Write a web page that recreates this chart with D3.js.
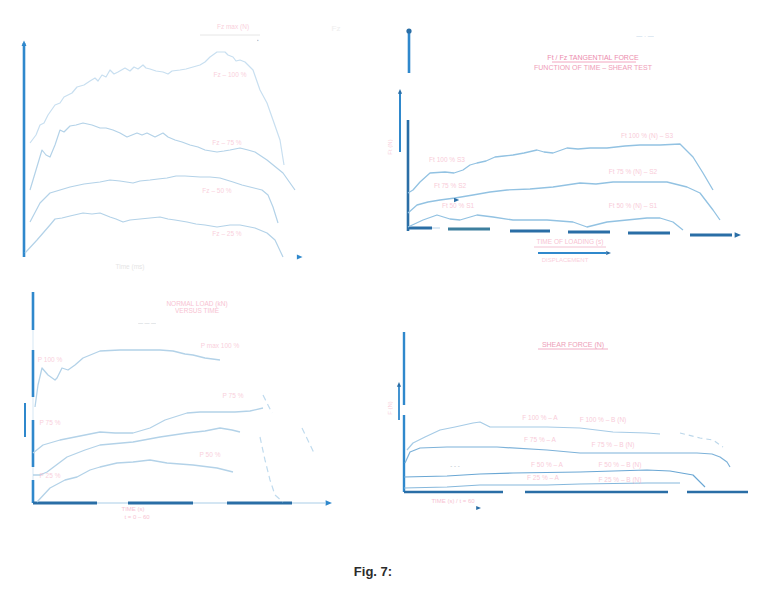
<!DOCTYPE html>
<html><head><meta charset="utf-8">
<script src="https://cdn.jsdelivr.net/npm/d3@7"></script>
<style>body{margin:0;background:#fff}svg{display:block}</style>
</head><body>
<svg width="780" height="593"></svg>
<script>
// ---------- Panel A (top-left) ----------
const aCurveTop = [[3,57],[6,61],[8,66],[10,67],[12,71],[15.5,76],[18,77],[20,80],[24,82],[26.5,85],[30,86],[33,88],[35.5,89.5],[37,88],[39,91],[41,90],[43,93.5],[45,91.5],[47,92.5],[50.5,94.5],[53,93],[55,95],[57,94],[59.5,96],[61,94.5],[63,94],[66,93],[69.5,92.5],[72,91.5],[74,93],[78,93.5],[81,94],[84.5,95],[88,96],[90.5,97.5],[93,100],[96.5,102.5],[100.5,102.5],[102,101],[104.5,100],[106,98],[108,98.5],[110.5,97.5],[114.5,93.5],[118,83.5],[121.5,77],[124.5,68.5],[128,58.5],[130,46]];
const aCurve2 = [[3,33.5],[6,43.5],[9,53.5],[11,51],[13,50],[15.5,56],[18,63.5],[20,62.5],[23,65.5],[26,66],[29.5,67],[34,66],[38,64.5],[41,64.5],[44.5,63.5],[48,62],[51.5,60],[54,61],[56.5,62],[59,61],[61.5,62],[65.5,60],[69.5,62],[72,60],[75.5,58.5],[79,57.5],[83,56],[87,55],[90.5,53.5],[96.5,52.5],[100,53],[103,53.5],[108,54.5],[112,53.5],[115.5,52.5],[121.5,48.5],[129.5,42],[135.5,33.5]];
const aCurve3 = [[3,17.5],[8,27],[13,32],[18,33.5],[23,35],[30,36.5],[38,37.5],[43,38.5],[48,38],[54.5,37],[58,38],[63,38.5],[67,39],[71.5,39.5],[76,40.5],[80.5,40.5],[88,40],[93,40],[98,39.5],[104.5,37.5],[109,36],[113,35],[119,33.5],[122,31],[124.5,25],[127,17]];
const aCurve4 = [[0.5,2],[6.5,8.5],[13,16],[15.5,19],[19,19.5],[23,20.5],[29.5,22],[34,21.5],[38,22],[43,20],[46,19],[49.5,17.5],[53,18.5],[58,19],[63,19.5],[68,20],[72,19],[75.5,18.5],[81.5,17.5],[86,16.5],[90.5,16],[96.5,15],[103,16],[108,16],[115.5,14.5],[121.5,12],[125.5,8.5],[129.5,0]];
const aLabels = [["Fz max (N)",104.5,114],["Fz – 100 %",103,90],["Fz – 75 %",101.5,56],["Fz – 50 %",96.5,32],["Fz – 25 %",101.5,10.5],["Time (ms)",53,-6]];

// ---------- Panel B (top-right) ----------
const bCurveTop = [[0,19],[2.5,20.5],[6,24.5],[11,29],[18.5,29.5],[23,29],[27.5,30.5],[31,33],[34.5,34],[39,35],[43.5,37],[48,37.5],[52.5,38],[58,39],[64.5,40.5],[68,39.5],[72.5,39],[79.5,41.5],[85,41],[91,41.5],[99.5,41.5],[108.5,42.5],[116,43],[126,43],[136,43.5],[142.5,37],[147.5,29],[152.5,20.5]];
const bCurveMid = [[0,9],[4.5,13],[10,14.5],[16,15.5],[23.5,16.5],[32.5,18],[41,19.5],[49.5,20.5],[61,21],[72.5,22],[86,24],[94,23.5],[102.5,24.5],[116,24.5],[129.5,24.5],[139.5,22],[146,19],[152.5,10.5],[156,5.5]];
const bCurveLow = [[0,2],[7.5,5.5],[14.5,8],[21,6],[26,5.5],[34.5,8],[42.5,7],[52.5,5.5],[69.5,5.5],[82.5,4.5],[89.5,2],[99.5,4.5],[109.5,5.5],[119.5,6.5],[126,6.5],[132.5,4.5],[137.5,0.5]];
const bAxisDashes = [[0,12,1.5],[20,41,1],[51,71,0],[80,101,-0.5],[110,131,-1],[141,162,-2]];
const bLabels = [["Ft 100 % (N) – S3",119.5,46.5],["Ft 75 % (N) – S2",112.5,28.5],["Ft 50 % (N) – S1",112.5,11.5],["Ft 100 % S3",19.5,34.5],["Ft 75 % S2",21,21.5],["Ft 50 % S1",25,11.5]];
const bTitle = ["Ft / Fz TANGENTIAL FORCE","FUNCTION OF TIME – SHEAR TEST"];
const bXLabel = ["TIME OF LOADING (s)","DISPLACEMENT"];

// ---------- Panel C (bottom-left) ----------
const cCurveTop = [[1,48],[2.5,59],[4.5,67.5],[7.5,64],[11,61.5],[12,62.5],[14.5,67.5],[17.5,66.5],[21,69],[25,72.5],[33.5,76],[43.5,76.5],[53.5,76.5],[63.5,76.5],[70,76],[76,74.5],[80,74],[86,72.5],[93.5,71.5]];
const cCurve2 = [[0,25],[5,29],[13.5,31.5],[23.5,33.5],[33.5,35.5],[41,35],[50,35],[58.5,37.5],[66,41.5],[77,45],[83.5,45.5],[92,45.5],[101,45.5],[108.5,46],[115,47.5]];
const cCurve3 = [[0,14],[3.5,14],[7,15.5],[17,23],[26,26.5],[33.5,29],[50,30.5],[63.5,33],[77,35],[86,36],[93.5,37.5],[99.5,36.5],[103.5,35.5]];
const cCurve4 = [[2,0.5],[8.5,7.5],[16,11.5],[22,13],[28.5,16.5],[33.5,18],[42,20],[50,20.5],[58.5,21.5],[67,20],[80,19],[92,17.5],[100,15.5]];
const cDrops = [[[115,54],[119.5,45]],[[113.5,33],[116,21.5],[118.5,11.5],[121,4],[125,0.5]],[[134.5,37.5],[141,24]]];
const cAxisY = [[0,11.5],[18,41.5],[53,76.5],[86.5,105.5]];
const cAxisX = [[0,32],[47.5,80],[97,129.5]];
const cLabels = [["P max 100 %",93.5,77.5],["P 100 %",8.5,70.5],["P 75 %",100,52.5],["P 75 %",8.5,39],["P 50 %",88.5,23],["P 25 %",8.5,12.5]];
const cTitle = ["NORMAL LOAD (kN)","VERSUS TIME"];
const cXLabel = ["TIME (s)","t = 0 – 60"];

// ---------- Panel D (bottom-right) ----------
const dCurveTop = [[1.5,21],[4.5,24.5],[10.5,27.5],[18,31],[25.5,32.5],[34.5,34.5],[38,35],[43,32.5],[53,32.5],[71.5,32.5],[88,32],[104.5,30],[121.5,29.5],[128,29]];
const dTailTop = [[138,29.5],[148,27],[154.5,26],[159.5,22.5]];
const dCurve2 = [[0.5,14.5],[3,20],[8,22],[21.5,22.5],[46.5,22.5],[71.5,21],[88,19.5],[121.5,19.5],[146.5,19.5],[154,19],[158,17.5],[161.5,15],[163,12.5]];
const dCurve3 = [[0,7.5],[21.5,8],[38,9],[54.5,9.5],[88,10],[121.5,11],[133,10.5],[144.5,8.5],[150.5,2.5]];
const dCurve4 = [[0,2],[21.5,2.5],[38,3.5],[71.5,3.5],[88,4],[121.5,4.5],[138,4.5]];
const dAxisY = [[0,38.5],[43.5,80]];
const dAxisX = [[0,49.5],[60.5,132],[141.5,172]];
const dLabels = [["F 100 % – A",68,36],["F 100 % – B (N)",99.5,35],["F 75 % – A",68,25],["F 75 % – B (N)",104.5,22.5],["F 50 % – A",71.5,12.5],["F 50 % – B (N)",108,12.5],["F 25 % – A",69.5,6],["F 25 % – B (N)",108,5]];
const dTitle = "SHEAR FORCE (N)";
const dXLabel = "TIME (s) / t = 60";

const caption = "Fig. 7:";

// ---------- drawing ----------
const svg = d3.select("svg");
const AX = "#2f88cc", AXD = "#2a6ea6", PINK = "#f5a9c0", CURVE = "#b3d2e8";

function mkScales(xd, xr, yd, yr){
  return {x: d3.scaleLinear().domain(xd).range(xr), y: d3.scaleLinear().domain(yd).range(yr)};
}
function curve(g, s, data, color, w, dash){
  g.append("path").datum(data)
   .attr("d", d3.line().x(d=>s.x(d[0])).y(d=>s.y(d[1])))
   .attr("fill","none").attr("stroke",color).attr("stroke-width",w)
   .attr("stroke-linejoin","round").attr("stroke-dasharray",dash||null);
}
function label(g, s, t, x, y, opt){
  opt = opt||{};
  const el = g.append("text").attr("x",s.x(x)).attr("y",s.y(y))
    .attr("text-anchor",opt.anchor||"middle")
    .attr("font-family","Liberation Sans, Arial, sans-serif")
    .attr("font-size",opt.size||6.5).attr("fill",opt.color||PINK)
    .attr("opacity",opt.op==null?0.7:opt.op).text(t);
  if(opt.rot) el.attr("transform",`rotate(-90,${s.x(x)},${s.y(y)})`);
  return el;
}
function vline(g, s, x, y0, y1, color, w){
  g.append("line").attr("x1",s.x(x)).attr("x2",s.x(x)).attr("y1",s.y(y0)).attr("y2",s.y(y1))
   .attr("stroke",color).attr("stroke-width",w);
}
function hline(g, s, x0, x1, y, color, w){
  g.append("line").attr("x1",s.x(x0)).attr("x2",s.x(x1)).attr("y1",s.y(y)).attr("y2",s.y(y))
   .attr("stroke",color).attr("stroke-width",w);
}
function arrow(g, px, py, dir, color, size){
  size = size||4;
  let pts;
  if(dir==="up") pts=[[px,py-size],[px-size*0.7,py+size*0.6],[px+size*0.7,py+size*0.6]];
  else pts=[[px+size,py],[px-size*0.6,py-size*0.7],[px-size*0.6,py+size*0.7]];
  g.append("polygon").attr("points",pts.map(p=>p.join(",")).join(" ")).attr("fill",color);
}

// Panel A
{
  const s = mkScales([0,140],[24,304],[0,107],[257,43]);
  const g = svg.append("g");
  vline(g,s,0,0,107,AX,2.6);
  arrow(g,s.x(0),s.y(107)+1,"up",AX,3.5);
  arrow(g,s.x(137)+1,s.y(0),"right",AX,3.5);
  [aCurveTop,aCurve2,aCurve3,aCurve4].forEach((c,i)=>curve(g,s,c,i===0?"#c8dff0":CURVE,1.2));
  aLabels.forEach((l,i)=>label(g,s,l[0],l[1],l[2],{color:i===5?"#cfcfcf":PINK,op:0.55}));
  hline(g,s,88,118,111,"#e6e6e6",1);
  label(g,s,"▪",117,107.5,{color:"#9aa3aa",size:5});
  label(g,s,"Fz",156,113,{color:"#e8e8e8",size:8});
}

// Panel B
{
  const s = mkScales([0,165],[408,738],[0,70],[231,91]);
  const g = svg.append("g");
  g.append("line").attr("x1",409).attr("x2",409).attr("y1",s.y(70)-61).attr("y2",s.y(70)-18).attr("stroke",AX).attr("stroke-width",2.6);
  g.append("circle").attr("cx",409).attr("cy",s.y(70)-60).attr("r",2.6).attr("fill",AXD);
  vline(g,s,-4,39.5,69.5,AX,2);
  arrow(g,s.x(-4),s.y(69.5),"up",AXD,3);
  vline(g,s,0,0,55.5,AXD,2.6);
  bAxisDashes.forEach(d=>hline(g,s,d[0],d[1],d[2],d[0]===20?"#3d7f9e":AXD,3));
  hline(g,s,12,16,1.5,"#b7d3ea",1);
  arrow(g,s.x(164.5),s.y(-2),"right",AXD,4);
  [bCurveTop,bCurveMid,bCurveLow].forEach(c=>curve(g,s,c,"#92c2e2",1.3));
  arrow(g,s.x(24),s.y(15.5),"right",AXD,3.2);
  bLabels.forEach(l=>label(g,s,l[0],l[1],l[2],{op:0.6}));
  label(g,s,bTitle[0],92.5,85.5,{size:7,color:"#e86e98",op:0.8});
  hline(g,s,72,114,84.5,"#ef8fb0",0.8);
  label(g,s,bTitle[1],92.5,80.5,{size:7,color:"#ec86a8",op:0.8});
  label(g,s,"— · —",118.5,96.5,{color:"#8fb4d4",size:6});
  label(g,s,"Ft (N)",-8,42,{rot:true,size:6,op:0.55});
  label(g,s,bXLabel[0],81,-6.5,{size:6.5});
  hline(g,s,63,99,-8,"#f0b2c6",0.8);
  hline(g,s,65,99,-11,AX,2);
  arrow(g,s.x(100),s.y(-11),"right",AXD,3);
  label(g,s,bXLabel[1],78.5,-15.5,{size:6,op:0.55});
}

// Panel C
{
  const s = mkScales([0,147.5],[33,328],[0,105.5],[503,292]);
  const g = svg.append("g");
  hline(g,s,0,146,0,"#a9cde8",1.2);
  cAxisY.forEach(d=>vline(g,s,0,d[0],d[1],AX,2.6));
  cAxisY.forEach((d,i)=>{ if(i<3) vline(g,s,0,d[1],cAxisY[i+1][0],"#d5e7f4",1); });
  vline(g,s,-4,33,50,AX,2);
  cAxisX.forEach(d=>hline(g,s,d[0],d[1],0,AXD,3));
  arrow(g,s.x(147.5),s.y(0),"right",AX,4);
  [cCurveTop,cCurve2,cCurve3,cCurve4].forEach(c=>curve(g,s,c,CURVE,1.3));
  cDrops.forEach(c=>curve(g,s,c,"#c0dbee",1.2,"6,4"));
  cLabels.forEach(l=>label(g,s,l[0],l[1],l[2],{op:0.55}));
  label(g,s,cTitle[0],82,98.5,{size:6.5});
  label(g,s,cTitle[1],82,95,{size:6.5});
  label(g,s,"— — —",57,89,{color:"#a6adb3",size:5});
  label(g,s,cXLabel[0],50,-4,{size:6});
  label(g,s,cXLabel[1],52,-8,{size:6});
}

// Panel D
{
  const s = mkScales([0,172],[404,748],[0,80],[492,332]);
  const g = svg.append("g");
  dAxisY.forEach(d=>vline(g,s,0,d[0],d[1],AX,2.4));
  vline(g,s,-2.5,36,53.5,AX,1.8);
  arrow(g,s.x(-2.5),s.y(53.5),"up",AXD,3);
  dAxisX.forEach(d=>hline(g,s,d[0],d[1],0,AXD,2.6));
  curve(g,s,dCurveTop,"#a6cbe6",1.2);
  curve(g,s,dTailTop,"#bcd7ea",1.2,"5,4");
  curve(g,s,dCurve2,"#7db2d9",1.2);
  curve(g,s,dCurve3,"#6aa7d4",1.2);
  curve(g,s,dCurve4,"#86b8dc",1.2);
  dLabels.forEach(l=>label(g,s,l[0],l[1],l[2],{op:0.6}));
  label(g,s,dTitle,84.5,72.5,{size:7,color:"#ea86a6",op:0.8});
  hline(g,s,67,102,71.5,"#ef9ab6",0.8);
  label(g,s,"- - -",25.5,12,{color:"#7c8fa0",size:6});
  label(g,s,"F (N)",-6,42,{rot:true,size:6,op:0.55});
  label(g,s,dXLabel,24.5,-5.5,{size:6});
  arrow(g,s.x(37),s.y(-8),"right",AXD,3);
}

svg.append("text").attr("x",373).attr("y",576).attr("text-anchor","middle")
  .attr("font-family","Liberation Sans, Arial, sans-serif").attr("font-weight","bold")
  .attr("font-size",13).attr("fill","#2b2b2b").text(caption);
</script>
</body></html>
